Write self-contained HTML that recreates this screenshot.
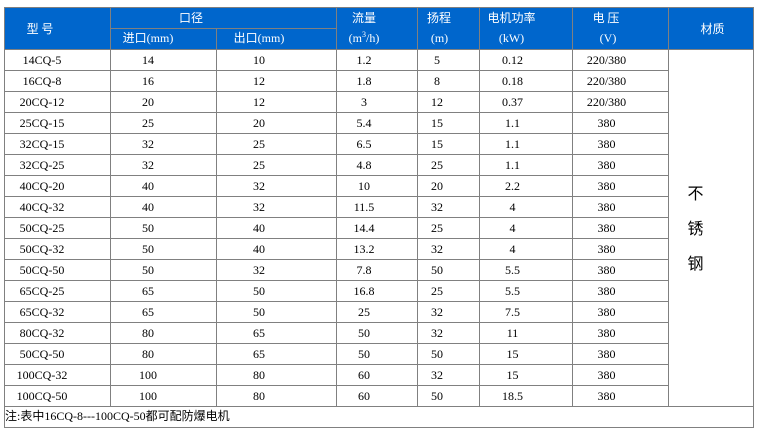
<!DOCTYPE html>
<html>
<head>
<meta charset="utf-8">
<style>
html,body{margin:0;padding:0;background:#fff;}
body{width:759px;height:434px;position:relative;overflow:hidden;font-family:"Liberation Serif","Noto Sans CJK SC",serif;font-size:12px;color:#000;}
.hd{position:absolute;left:4px;top:7px;width:750px;height:42px;background:#0066cc;}
.l{position:absolute;background:#808080;}
.r{position:absolute;left:0;width:759px;height:21px;}
.r div{position:absolute;top:0;width:100px;height:21px;line-height:21px;text-align:center;white-space:nowrap;}
.c1{left:-8px}.c2{left:98px}.c3{left:209px}.c4{left:314px}.c5{left:387px}.c6{left:462.5px}.c7{left:556.5px}
.w{position:absolute;width:120px;text-align:center;color:#fff;height:21px;line-height:21px;white-space:nowrap;font-family:"Liberation Serif","Noto Sans CJK SC",serif;font-size:12px;}
.cj{font-family:"Noto Sans CJK SC","WenQuanYi Zen Hei",sans-serif;}
sup{font-size:8px;line-height:0;vertical-align:5px;}
.mat{position:absolute;left:655.5px;width:80px;top:175px;text-align:center;font-family:"Noto Sans CJK SC","WenQuanYi Zen Hei",sans-serif;font-size:16px;line-height:35px;}
.note{position:absolute;left:5px;top:406px;height:21px;line-height:21px;white-space:nowrap;font-size:12px;}
</style>
</head>
<body>
<div class="hd"></div>

<!-- horizontal lines -->
<div class="l" style="left:4px;top:7px;width:750px;height:1px"></div>
<div class="l" style="left:110px;top:28px;width:227px;height:1px"></div>
<div class="l" style="left:4px;top:49px;width:750px;height:1px"></div>
<div class="l" style="left:4px;top:70px;width:665px;height:1px"></div>
<div class="l" style="left:4px;top:91px;width:665px;height:1px"></div>
<div class="l" style="left:4px;top:112px;width:665px;height:1px"></div>
<div class="l" style="left:4px;top:133px;width:665px;height:1px"></div>
<div class="l" style="left:4px;top:154px;width:665px;height:1px"></div>
<div class="l" style="left:4px;top:175px;width:665px;height:1px"></div>
<div class="l" style="left:4px;top:196px;width:665px;height:1px"></div>
<div class="l" style="left:4px;top:217px;width:665px;height:1px"></div>
<div class="l" style="left:4px;top:238px;width:665px;height:1px"></div>
<div class="l" style="left:4px;top:259px;width:665px;height:1px"></div>
<div class="l" style="left:4px;top:280px;width:665px;height:1px"></div>
<div class="l" style="left:4px;top:301px;width:665px;height:1px"></div>
<div class="l" style="left:4px;top:322px;width:665px;height:1px"></div>
<div class="l" style="left:4px;top:343px;width:665px;height:1px"></div>
<div class="l" style="left:4px;top:364px;width:665px;height:1px"></div>
<div class="l" style="left:4px;top:385px;width:665px;height:1px"></div>
<div class="l" style="left:4px;top:406px;width:750px;height:1px"></div>
<div class="l" style="left:4px;top:427px;width:750px;height:1px"></div>

<!-- vertical lines -->
<div class="l" style="left:4px;top:7px;width:1px;height:421px"></div>
<div class="l" style="left:753px;top:7px;width:1px;height:421px"></div>
<div class="l" style="left:110px;top:7px;width:1px;height:400px"></div>
<div class="l" style="left:216px;top:28px;width:1px;height:379px"></div>
<div class="l" style="left:336px;top:7px;width:1px;height:400px"></div>
<div class="l" style="left:417px;top:7px;width:1px;height:400px"></div>
<div class="l" style="left:479px;top:7px;width:1px;height:400px"></div>
<div class="l" style="left:572px;top:7px;width:1px;height:400px"></div>
<div class="l" style="left:668px;top:7px;width:1px;height:400px"></div>

<!-- header text -->
<div class="w cj" style="left:-20px;top:18px">型 号</div>
<div class="w cj" style="left:131px;top:7px">口径</div>
<div class="w" style="left:88px;top:28px">进口(mm)</div>
<div class="w" style="left:199px;top:28px">出口(mm)</div>
<div class="w cj" style="left:304px;top:7px">流量</div>
<div class="w" style="left:304px;top:28px">(m<sup>3</sup>/h)</div>
<div class="w cj" style="left:379px;top:7px">扬程</div>
<div class="w" style="left:379.5px;top:28px">(m)</div>
<div class="w cj" style="left:451.5px;top:7px">电机功率</div>
<div class="w" style="left:451.5px;top:28px">(kW)</div>
<div class="w cj" style="left:546px;top:7px">电 压</div>
<div class="w" style="left:548px;top:28px">(V)</div>
<div class="w cj" style="left:652.5px;top:18px">材质</div>

<!-- data rows -->
<div class="r" style="top:50px"><div class="c1">14CQ-5</div><div class="c2">14</div><div class="c3">10</div><div class="c4">1.2</div><div class="c5">5</div><div class="c6">0.12</div><div class="c7">220/380</div></div>
<div class="r" style="top:71px"><div class="c1">16CQ-8</div><div class="c2">16</div><div class="c3">12</div><div class="c4">1.8</div><div class="c5">8</div><div class="c6">0.18</div><div class="c7">220/380</div></div>
<div class="r" style="top:92px"><div class="c1">20CQ-12</div><div class="c2">20</div><div class="c3">12</div><div class="c4">3</div><div class="c5">12</div><div class="c6">0.37</div><div class="c7">220/380</div></div>
<div class="r" style="top:113px"><div class="c1">25CQ-15</div><div class="c2">25</div><div class="c3">20</div><div class="c4">5.4</div><div class="c5">15</div><div class="c6">1.1</div><div class="c7">380</div></div>
<div class="r" style="top:134px"><div class="c1">32CQ-15</div><div class="c2">32</div><div class="c3">25</div><div class="c4">6.5</div><div class="c5">15</div><div class="c6">1.1</div><div class="c7">380</div></div>
<div class="r" style="top:155px"><div class="c1">32CQ-25</div><div class="c2">32</div><div class="c3">25</div><div class="c4">4.8</div><div class="c5">25</div><div class="c6">1.1</div><div class="c7">380</div></div>
<div class="r" style="top:176px"><div class="c1">40CQ-20</div><div class="c2">40</div><div class="c3">32</div><div class="c4">10</div><div class="c5">20</div><div class="c6">2.2</div><div class="c7">380</div></div>
<div class="r" style="top:197px"><div class="c1">40CQ-32</div><div class="c2">40</div><div class="c3">32</div><div class="c4">11.5</div><div class="c5">32</div><div class="c6">4</div><div class="c7">380</div></div>
<div class="r" style="top:218px"><div class="c1">50CQ-25</div><div class="c2">50</div><div class="c3">40</div><div class="c4">14.4</div><div class="c5">25</div><div class="c6">4</div><div class="c7">380</div></div>
<div class="r" style="top:239px"><div class="c1">50CQ-32</div><div class="c2">50</div><div class="c3">40</div><div class="c4">13.2</div><div class="c5">32</div><div class="c6">4</div><div class="c7">380</div></div>
<div class="r" style="top:260px"><div class="c1">50CQ-50</div><div class="c2">50</div><div class="c3">32</div><div class="c4">7.8</div><div class="c5">50</div><div class="c6">5.5</div><div class="c7">380</div></div>
<div class="r" style="top:281px"><div class="c1">65CQ-25</div><div class="c2">65</div><div class="c3">50</div><div class="c4">16.8</div><div class="c5">25</div><div class="c6">5.5</div><div class="c7">380</div></div>
<div class="r" style="top:302px"><div class="c1">65CQ-32</div><div class="c2">65</div><div class="c3">50</div><div class="c4">25</div><div class="c5">32</div><div class="c6">7.5</div><div class="c7">380</div></div>
<div class="r" style="top:323px"><div class="c1">80CQ-32</div><div class="c2">80</div><div class="c3">65</div><div class="c4">50</div><div class="c5">32</div><div class="c6">11</div><div class="c7">380</div></div>
<div class="r" style="top:344px"><div class="c1">50CQ-50</div><div class="c2">80</div><div class="c3">65</div><div class="c4">50</div><div class="c5">50</div><div class="c6">15</div><div class="c7">380</div></div>
<div class="r" style="top:365px"><div class="c1">100CQ-32</div><div class="c2">100</div><div class="c3">80</div><div class="c4">60</div><div class="c5">32</div><div class="c6">15</div><div class="c7">380</div></div>
<div class="r" style="top:386px"><div class="c1">100CQ-50</div><div class="c2">100</div><div class="c3">80</div><div class="c4">60</div><div class="c5">50</div><div class="c6">18.5</div><div class="c7">380</div></div>

<!-- material -->
<div class="mat">不<br>锈<br>钢</div>

<!-- note -->
<div class="note">注:表中16CQ-8---100CQ-50都可配防爆电机</div>
</body>
</html>
